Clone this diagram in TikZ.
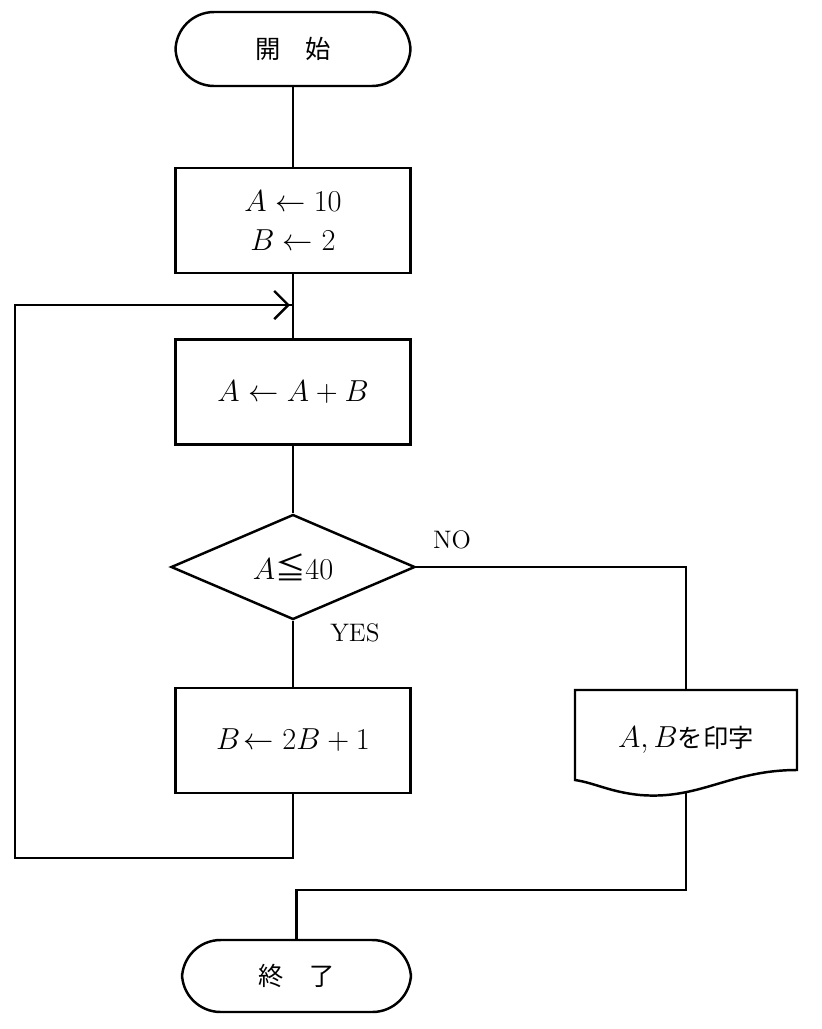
\documentclass[tikz,border=0pt]{standalone}
\usepackage{fontspec}
\newfontfamily\cjk{Noto Sans CJK JP}
\usetikzlibrary{shapes.geometric,arrows.meta}

\tikzset{
  term/.style={draw, rounded corners=22pt, minimum width=235\px, minimum height=74\px, font=\cjk\Large},
  proc/.style={draw, minimum width=235\px, minimum height=105\px, font=\LARGE, align=center},
  line/.style={line width=1.4pt}
}
\newlength{\px}
\setlength{\px}{0.02cm}

\begin{document}
\begin{tikzpicture}[x=0.02cm, y=-0.02cm, line width=1.4pt]
  \useasboundingbox (0,0) rectangle (822,1029);
  \node[term] (start) at (293,49) {開\quad 始};
  \node[proc] (init) at (293,220.5) {$A\leftarrow 10$\\$B\leftarrow 2$};
  \node[proc] (add) at (293,392) {$A\leftarrow A+B$};
  \node[draw, diamond, aspect=2.33, minimum width=244\px, minimum height=105\px, inner sep=0pt, font=\LARGE] (cond) at (293,567) {$A${\cjk ≦}$40$};
  \node[proc] (upd) at (293,740.5) {$B\!\leftarrow 2B+1$};
  \node[term, minimum width=229\px, minimum height=72\px] (stop) at (296.5,976) {終\quad 了};
  % print document
  \draw (575,690) -- (797,690) -- (797,770)
    .. controls (730,770) and (700,800) .. (640,795)
    .. controls (610,792) and (595,783) .. (575,780) -- cycle;
  \node[font=\LARGE] (prt) at (686,740) {$A,B${\cjk\Large を印字}};
  \coordinate (prttop) at (686,690);
  \coordinate (prtbot) at (686,791);
  \coordinate (loopin) at (293,305);
  % connectors
  \draw (start) -- (init);
  \draw (init) -- (add);
  \draw (add) -- (cond);
  \draw (cond) -- (upd);
  \draw (cond.east) -| (prttop);
  \draw (upd.south) |- (15,858) |- (loopin);
  \draw[-{Straight Barb[length=8pt,width=16pt]}] (15,305) -- (290,305);
  \draw (prtbot) |- (296.5,890) -- (stop.north);
  \node[font=\Large] at (452,540) {NO};
  \node[font=\Large] at (355,633) {YES};
\end{tikzpicture}
\end{document}
